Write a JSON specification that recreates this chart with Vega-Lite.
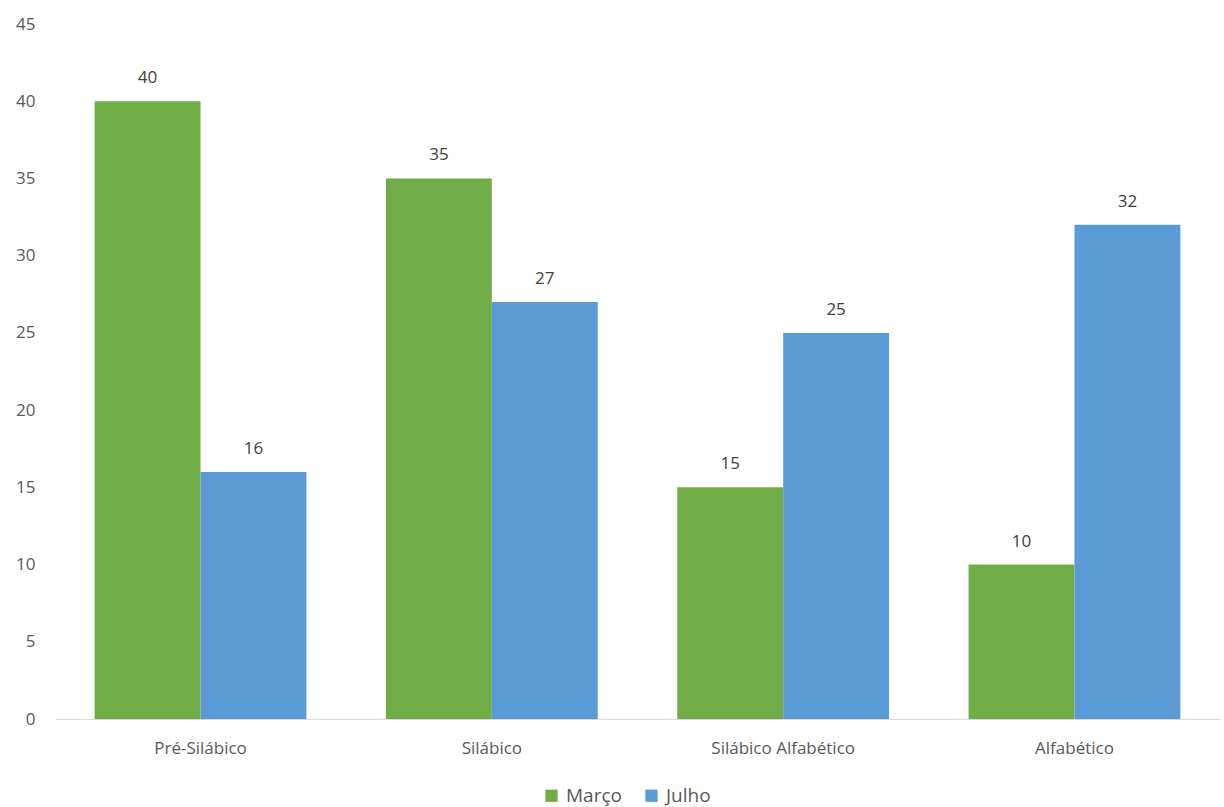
{
  "$schema": "https://vega.github.io/schema/vega-lite/v6.json",
  "width": 1165,
  "height": 695,
  "autosize": {"type": "none"},
  "padding": {"left": 55, "top": 24, "right": 4, "bottom": 88},
  "background": "white",
  "config": {
    "view": {"stroke": null},
    "font": "Open Sans"
  },
  "data": {
    "values": [
      {"categoria": "Pré-Silábico", "mes": "Março", "valor": 40},
      {"categoria": "Pré-Silábico", "mes": "Julho", "valor": 16},
      {"categoria": "Silábico", "mes": "Março", "valor": 35},
      {"categoria": "Silábico", "mes": "Julho", "valor": 27},
      {"categoria": "Silábico Alfabético", "mes": "Março", "valor": 15},
      {"categoria": "Silábico Alfabético", "mes": "Julho", "valor": 25},
      {"categoria": "Alfabético", "mes": "Março", "valor": 10},
      {"categoria": "Alfabético", "mes": "Julho", "valor": 32}
    ]
  },
  "encoding": {
    "x": {
      "field": "categoria",
      "type": "nominal",
      "sort": ["Pré-Silábico", "Silábico", "Silábico Alfabético", "Alfabético"],
      "scale": {"paddingInner": 0.273, "paddingOuter": 0.136},
      "axis": {
        "title": null,
        "labelAngle": 0,
        "labelFontSize": 17,
        "labelColor": "#595959",
        "labelPadding": 21,
        "ticks": false,
        "domainColor": "#d9d9d9",
        "domainWidth": 1
      }
    },
    "xOffset": {"field": "mes", "type": "nominal", "sort": ["Março", "Julho"]},
    "y": {
      "field": "valor",
      "type": "quantitative",
      "scale": {"domain": [0, 45], "nice": false},
      "axis": {
        "title": null,
        "values": [0, 5, 10, 15, 20, 25, 30, 35, 40, 45],
        "grid": false,
        "domain": false,
        "ticks": false,
        "labelFontSize": 17,
        "labelColor": "#595959",
        "labelPadding": 20
      }
    }
  },
  "layer": [
    {
      "mark": {"type": "bar"},
      "encoding": {
        "color": {
          "field": "mes",
          "type": "nominal",
          "sort": ["Março", "Julho"],
          "scale": {"domain": ["Março", "Julho"], "range": ["#70AD47", "#5B9BD5"]},
          "legend": {
            "title": null,
            "orient": "none",
            "legendX": 487,
            "legendY": 762,
            "direction": "horizontal",
            "symbolType": "square",
            "symbolSize": 150,
            "symbolStrokeWidth": 0,
            "labelFontSize": 19,
            "labelColor": "#595959",
            "columnPadding": 20,
            "labelOffset": 5
          }
        }
      }
    },
    {
      "mark": {"type": "text", "dy": -14, "fontSize": 17, "color": "#404040", "baseline": "bottom"},
      "encoding": {
        "text": {"field": "valor", "type": "quantitative"}
      }
    }
  ]
}
